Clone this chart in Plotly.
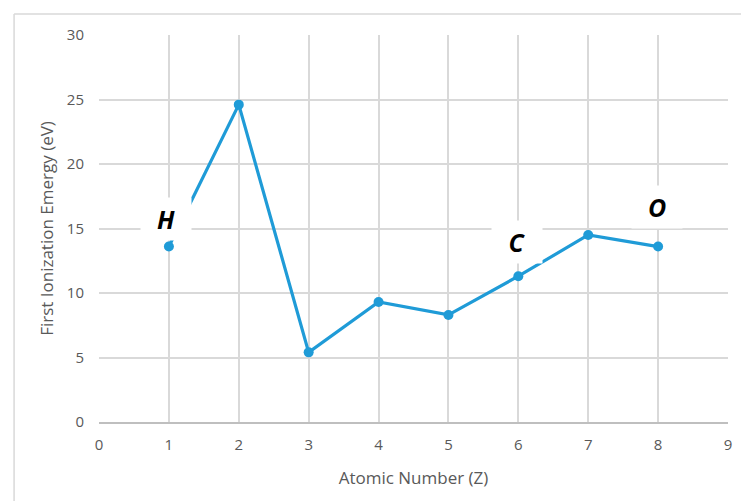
import plotly.graph_objects as go

# First ionization energies for the first eight elements
atomic_number = [1, 2, 3, 4, 5, 6, 7, 8]
ionization_ev = [13.6, 24.6, 5.4, 9.3, 8.3, 11.3, 14.5, 13.6]

# Element symbols shown beside selected points
label_text = ["H", "C", "O"]
label_x = [0.96, 5.98, 7.98]
label_y = [15.75, 13.95, 16.65]

x_ticks = list(range(0, 10))
y_ticks = [0, 5, 10, 15, 20, 25, 30]

LINE_BLUE = "#1f9bd7"
GRID = "#d9d9d9"
TEXT_GRAY = "#595959"
FONT = "Open Sans"

fig = go.Figure()
fig.add_trace(go.Scatter(
    x=atomic_number,
    y=ionization_ev,
    mode="lines+markers",
    line=dict(color=LINE_BLUE, width=3.2),
    marker=dict(color=LINE_BLUE, size=10),
    showlegend=False,
    hoverinfo="x+y",
))

for t, lx, ly in zip(label_text, label_x, label_y):
    fig.add_annotation(
        x=lx, y=ly, xref="x", yref="y",
        text="<b><i>" + t + "</i></b>",
        showarrow=False,
        font=dict(family=FONT, size=25, color="#000000"),
        bgcolor="#ffffff",
        width=50, height=42,
        borderpad=0,
    )

# Light outer frame: top and left edges of the chart area
frame = dict(color="#d9d9d9", width=1.5)
fig.add_shape(type="line", xref="paper", yref="paper",
              x0=-0.135, x1=1.03, y0=1.054, y1=1.054, line=frame, layer="below")
fig.add_shape(type="line", xref="paper", yref="paper",
              x0=-0.135, x1=-0.135, y0=-0.3, y1=1.054, line=frame, layer="below")

fig.update_layout(
    width=741, height=501,
    margin=dict(l=99, r=9, t=35, b=79),
    paper_bgcolor="#ffffff",
    plot_bgcolor="#ffffff",
    font=dict(family=FONT, color=TEXT_GRAY, size=15),
    xaxis=dict(
        range=[0, 9],
        tickvals=x_ticks,
        showgrid=True, gridcolor=GRID, gridwidth=1.5,
        zeroline=False,
        showline=True, linecolor="#bfbfbf", linewidth=1.5,
        ticks="", ticklabelstandoff=8,
        tickfont=dict(family=FONT, size=15, color=TEXT_GRAY),
        title=dict(text="Atomic Number (Z)", standoff=19,
                   font=dict(family=FONT, size=17, color=TEXT_GRAY)),
    ),
    yaxis=dict(
        range=[0, 30],
        tickvals=y_ticks,
        showgrid=True, gridcolor=GRID, gridwidth=1.5,
        zeroline=False,
        showline=False,
        ticks="", ticklabelstandoff=14,
        tickfont=dict(family=FONT, size=15, color=TEXT_GRAY),
        title=dict(text="First Ionization Emergy (eV)", standoff=8,
                   font=dict(family=FONT, size=17, color=TEXT_GRAY)),
    ),
)

fig.write_html("out.html", config={"displayModeBar": False})
